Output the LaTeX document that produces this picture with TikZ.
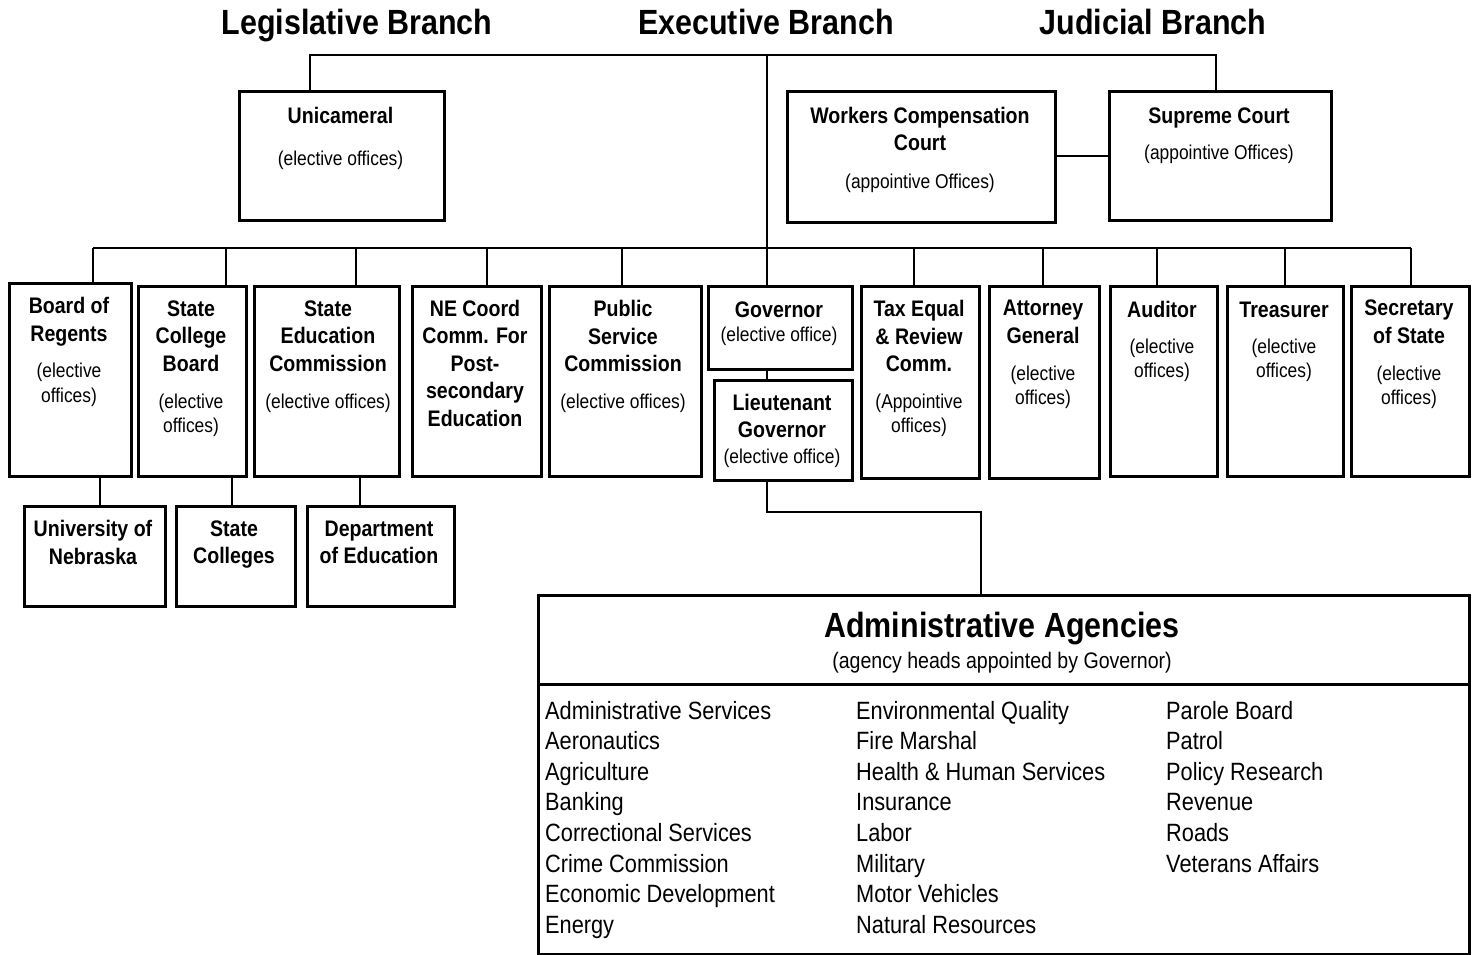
\documentclass[tikz,border=0pt]{standalone}
\usepackage{fontspec}
\setmainfont{Liberation Sans}[FakeStretch=0.87]
\begin{document}
\begin{tikzpicture}[x=1pt,y=-1pt,
  box/.style={draw, line width=2.6pt, inner sep=0pt, anchor=north west},
  link/.style={line width=1.6pt},
  bt/.style={font=\fontsize{22.5}{27.5}\selectfont\bfseries, align=center, inner sep=0pt, yshift=-4pt, execute at begin node=\strut, execute at end node=\strut},
  nt/.style={font=\fontsize{20}{24.5}\selectfont, align=center, inner sep=0pt, yshift=-3pt, execute at begin node=\strut, execute at end node=\strut},
  hd/.style={font=\fontsize{35}{40}\selectfont\bfseries, inner sep=0pt, yshift=-4.6pt, execute at begin node=\strut},
  st/.style={font=\fontsize{22.5}{27}\selectfont, inner sep=0pt, yshift=-2.7pt, execute at begin node=\strut},
  lst/.style={font=\fontsize{25}{30.55}\selectfont, align=left, inner sep=0pt, anchor=north west, execute at begin node=\strut, execute at end node=\strut}]
\useasboundingbox (0,0) rectangle (1473,955);

% headings
\node[hd] (legT) at (357,22) {Legislative Branch};
\node[hd] (exeT) at (766,22) {Executive Branch};
\node[hd] (judT) at (1153,22) {Judicial Branch};

% top boxes
\node[box, minimum width=205pt, minimum height=129pt] (uni) at (238,90) {};
\node[box, minimum width=268pt, minimum height=131pt] (wcc) at (786,90) {};
\node[box, minimum width=222pt, minimum height=129pt] (sc) at (1108,90) {};
\node[bt] (uniT) at (340.5,114) {Unicameral};
\node[nt] (uniS) at (340.5,158) {(elective offices)};
\node[bt] (wccT) at (920,129) {Workers Compensation\\Court};
\node[nt] (wccS) at (920,181) {(appointive Offices)};
\node[bt] (scT) at (1219,114) {Supreme Court};
\node[nt] (scS) at (1219,152) {(appointive Offices)};

% second row boxes
\node[box, minimum width=122pt, minimum height=193pt] (bor) at (8,282) {};
\node[box, minimum width=108pt, minimum height=190pt] (scb) at (137,285) {};
\node[box, minimum width=145pt, minimum height=190pt] (sec) at (253,285) {};
\node[box, minimum width=129pt, minimum height=190pt] (nec) at (411,285) {};
\node[box, minimum width=152pt, minimum height=190pt] (psc) at (548,285) {};
\node[box, minimum width=144pt, minimum height=83pt] (gov) at (707,285) {};
\node[box, minimum width=138pt, minimum height=100pt] (ltg) at (713,379) {};
\node[box, minimum width=118pt, minimum height=192pt] (tax) at (860,285) {};
\node[box, minimum width=110pt, minimum height=192pt] (ag) at (988,285) {};
\node[box, minimum width=107pt, minimum height=190pt] (aud) at (1109,285) {};
\node[box, minimum width=116pt, minimum height=190pt] (tre) at (1226,285) {};
\node[box, minimum width=118pt, minimum height=190pt] (sos) at (1350,285) {};

\node[bt] (borT) at (69,319.5) {Board of\\Regents};
\node[nt] (borS) at (69,383.5) {(elective\\offices)};
\node[bt] (scbT) at (191,336) {State\\College\\Board};
\node[nt] (scbS) at (191,414) {(elective\\offices)};
\node[bt] (secT) at (328,336) {State\\Education\\Commission};
\node[nt] (secS) at (328,401) {(elective offices)};
\node[bt] (necT) at (475,363) {NE Coord\\Comm. For\\Post-\\secondary\\Education};
\node[bt] (pscT) at (623,336) {Public\\Service\\Commission};
\node[nt] (pscS) at (623,401) {(elective offices)};
\node[bt] (govT) at (779,308) {Governor};
\node[nt] (govS) at (779,334) {(elective office)};
\node[bt] (ltgT) at (782,416) {Lieutenant\\Governor};
\node[nt] (ltgS) at (782,456) {(elective office)};
\node[bt] (taxT) at (919,336) {Tax Equal\\\& Review\\Comm.};
\node[nt] (taxS) at (919,414) {(Appointive\\offices)};
\node[bt] (agT) at (1043,322) {Attorney\\General};
\node[nt] (agS) at (1043,386) {(elective\\offices)};
\node[bt] (audT) at (1162,308) {Auditor};
\node[nt] (audS) at (1162,359) {(elective\\offices)};
\node[bt] (treT) at (1284,308) {Treasurer};
\node[nt] (treS) at (1284,359) {(elective\\offices)};
\node[bt] (sosT) at (1409,322) {Secretary\\of State};
\node[nt] (sosS) at (1409,386) {(elective\\offices)};

% third row boxes
\node[box, minimum width=141pt, minimum height=100pt] (unl) at (23,505) {};
\node[box, minimum width=119pt, minimum height=100pt] (stc) at (175,505) {};
\node[box, minimum width=147pt, minimum height=100pt] (doe) at (306,505) {};
\node[bt] (unlT) at (93,542.5) {University of\\Nebraska};
\node[bt] (stcT) at (234,542.5) {State\\Colleges};
\node[bt] (doeT) at (379,542.5) {Department\\of Education};

% administrative agencies
\node[box, minimum width=931pt, minimum height=89pt] (admh) at (537,594) {};
\node[box, minimum width=931pt, minimum height=270pt] (adml) at (537,683) {};
\node[hd] (admT) at (1002,625) {Administrative Agencies};
\node[st] (admS) at (1002,660) {(agency heads appointed by Governor)};
\node[lst] (col1) at (545,701) {Administrative Services\\Aeronautics\\Agriculture\\Banking\\Correctional Services\\Crime Commission\\Economic Development\\Energy};
\node[lst] (col2) at (856,701) {Environmental Quality\\Fire Marshal\\Health \& Human Services\\Insurance\\Labor\\Military\\Motor Vehicles\\Natural Resources};
\node[lst] (col3) at (1166,701) {Parole Board\\Patrol\\Policy Research\\Revenue\\Roads\\Veterans Affairs};

% connectors
\coordinate (tl) at (310,55);
\coordinate (tr) at (1216,55);
\coordinate (tm) at (767,55);
\draw[link] (uni.north -| tl) -- (tl) -- (tr) -- (sc.north -| tr);
\draw[link] (tm) -- (gov.north -| tm);
\draw[link] (wcc.east |- sc.west) -- (sc.west);

\coordinate (b1) at (93,248);
\coordinate (b2) at (226,248);
\coordinate (b3) at (356,248);
\coordinate (b4) at (487,248);
\coordinate (b5) at (622,248);
\coordinate (b6) at (914,248);
\coordinate (b7) at (1043,248);
\coordinate (b8) at (1157,248);
\coordinate (b9) at (1285,248);
\coordinate (b10) at (1411,248);
\draw[link] (b1) -- (b10);
\draw[link] (b1) -- (b1 |- bor.north);
\draw[link] (b2) -- (b2 |- scb.north);
\draw[link] (b3) -- (b3 |- sec.north);
\draw[link] (b4) -- (b4 |- nec.north);
\draw[link] (b5) -- (b5 |- psc.north);
\draw[link] (b6) -- (b6 |- tax.north);
\draw[link] (b7) -- (b7 |- ag.north);
\draw[link] (b8) -- (b8 |- aud.north);
\draw[link] (b9) -- (b9 |- tre.north);
\draw[link] (b10) -- (b10 |- sos.north);

\coordinate (s1) at (100,490);
\coordinate (s2) at (232,490);
\coordinate (s3) at (360,490);
\draw[link] (bor.south -| s1) -- (unl.north -| s1);
\draw[link] (scb.south -| s2) -- (stc.north -| s2);
\draw[link] (sec.south -| s3) -- (doe.north -| s3);

\draw[link] (gov.south -| tm) -- (ltg.north -| tm);
\coordinate (ae) at (981,512);
\draw[link] (ltg.south -| tm) |- (ae) -- (admh.north -| ae);
\end{tikzpicture}
\end{document}
